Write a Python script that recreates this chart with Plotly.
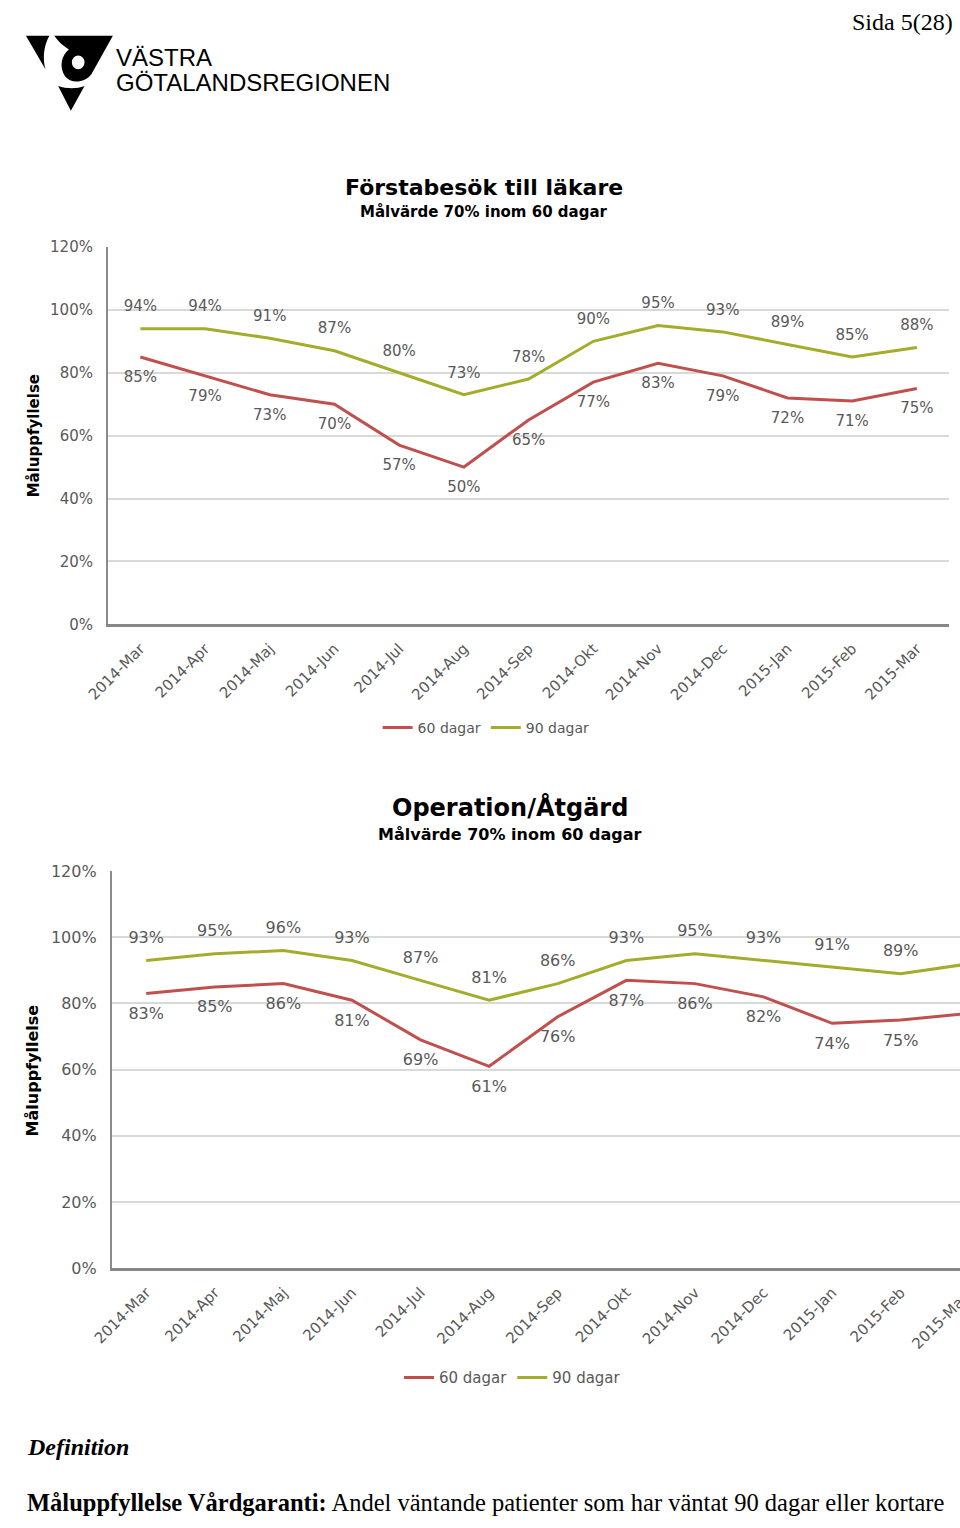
import plotly.graph_objects as go

W, H = 960, 1528

# ---------------- data ----------------
months = ["2014-Mar", "2014-Apr", "2014-Maj", "2014-Jun", "2014-Jul", "2014-Aug",
          "2014-Sep", "2014-Okt", "2014-Nov", "2014-Dec", "2015-Jan", "2015-Feb", "2015-Mar"]
forst_60 = [85, 79, 73, 70, 57, 50, 65, 77, 83, 79, 72, 71, 75]
forst_90 = [94, 94, 91, 87, 80, 73, 78, 90, 95, 93, 89, 85, 88]
oper_60 = [83, 85, 86, 81, 69, 61, 76, 87, 86, 82, 74, 75, 77]
oper_90 = [93, 95, 96, 93, 87, 81, 86, 93, 95, 93, 91, 89, 92]
y_ticks = [0, 20, 40, 60, 80, 100, 120]
y_ticktext = [f"{v}%" for v in y_ticks]
series_names = ["60 dagar", "90 dagar"]

RED = "#C0504D"
GREEN = "#A3AC2B"
GRAY_TXT = "#595959"
F = "DejaVu Sans"


def px_x(p):
    return p / W


def px_y(p):
    return 1 - p / H


fig = go.Figure()


def add_pair(v60, v90, xa, ya, lg, fsize):
    for vals, name, col, pos in [(v60, series_names[0], RED, "bottom center"),
                                 (v90, series_names[1], GREEN, "top center")]:
        fig.add_trace(go.Scatter(
            x=months, y=vals, name=name, xaxis=xa, yaxis=ya, legend=lg,
            mode="lines+markers+text",
            text=[f"{v}%" for v in vals], textposition=pos,
            textfont=dict(family=F, size=fsize, color=GRAY_TXT),
            line=dict(color=col, width=3),
            marker=dict(size=20, color="rgba(0,0,0,0)"),
            cliponaxis=False, hoverinfo="skip"))


add_pair(forst_60, forst_90, "x", "y", "legend", 15)
add_pair(oper_60, oper_90, "x2", "y2", "legend2", 16)

yaxis_common = dict(showline=True, linecolor="#8C8C8C", linewidth=2, ticks="",
                    zeroline=False, range=[0, 120], tickvals=y_ticks,
                    ticktext=y_ticktext, showgrid=True, gridcolor="#D9D9D9",
                    gridwidth=1.5, ticklabelstandoff=10)
xaxis_common = dict(showline=True, linecolor="#878787", linewidth=2.5, ticks="",
                    zeroline=False, type="category", showgrid=False, tickangle=-45,
                    ticklabelstandoff=7)

fig.update_layout(
    width=W, height=H, margin=dict(l=0, r=0, t=0, b=0, pad=0),
    paper_bgcolor="white", plot_bgcolor="white", showlegend=True,
    xaxis=dict(domain=[px_x(88), px_x(949)], anchor="y", range=[-0.5, 12.5],
               tickfont=dict(family=F, size=15, color=GRAY_TXT), **xaxis_common),
    yaxis=dict(domain=[px_y(623), px_y(241)], anchor="x",
               tickfont=dict(family=F, size=15, color=GRAY_TXT), **yaxis_common),
    xaxis2=dict(domain=[px_x(92), 1.0], anchor="y2",
                range=[-0.5, -0.5 + 868 / 70.2],
                tickfont=dict(family=F, size=15, color=GRAY_TXT), **xaxis_common),
    yaxis2=dict(domain=[px_y(1275), px_y(873)], anchor="x2",
                tickfont=dict(family=F, size=16, color=GRAY_TXT), **yaxis_common),
    legend=dict(orientation="h", x=px_x(475), y=px_y(728), xanchor="center",
                yanchor="middle", font=dict(family=F, size=14, color=GRAY_TXT),
                bgcolor="rgba(0,0,0,0)"),
    legend2=dict(orientation="h", x=px_x(502), y=px_y(1386), xanchor="center",
                 yanchor="middle", font=dict(family=F, size=15, color=GRAY_TXT),
                 bgcolor="rgba(0,0,0,0)"),
)

ann = []


def text(t, x, y, size, family, color="black", xanchor="center", angle=0):
    ann.append(dict(text=t, x=px_x(x), y=px_y(y), xref="paper", yref="paper",
                    xanchor=xanchor, yanchor="middle", showarrow=False,
                    textangle=angle, font=dict(family=family, size=size, color=color)))


# chart titles
text("<b>Förstabesök till läkare</b>", 473, 181, 22, F)
text("<b>Målvärde 70% inom 60 dagar</b>", 473, 206, 15, F)
text("<b>Operation/Åtgärd</b>", 499, 809, 24, F)
text("<b>Målvärde 70% inom 60 dagar</b>", 499, 836, 16, F)
# y-axis titles
text("<b>Måluppfyllelse</b>", 12, 432, 15, F, angle=-90)
text("<b>Måluppfyllelse</b>", 11, 1075, 16, F, angle=-90)
# cut tick label of the second chart (last category lies beyond the page edge)
ann.append(dict(text=months[-1], x=px_x(92 + 12.5 * 70.2 + 6), y=px_y(1293),
                xref="paper", yref="paper", xanchor="right", yanchor="top",
                showarrow=False, textangle=-45,
                font=dict(family=F, size=15, color=GRAY_TXT)))

# page header / footer
text("Sida 5(28)", 955, 13, 24, "Liberation Serif", xanchor="right")
text("VÄSTRA", 94, 49, 24, "Liberation Sans", xanchor="left")
text("GÖTALANDSREGIONEN", 94, 74, 24, "Liberation Sans", xanchor="left")
text("<b><i>Definition</i></b>", 3, 1456, 24, "Liberation Serif", xanchor="left")
text("<b>Måluppfyllelse Vårdgaranti:</b> Andel väntande patienter som har väntat 90 dagar eller kortare",
     3, 1512, 24.5, "Liberation Serif", xanchor="left")

fig.update_layout(annotations=ann)


# logo shapes (page pixel coordinates converted to paper)
def path(cmds):
    out = []
    for c in cmds:
        if isinstance(c, str):
            out.append(c)
        else:
            out.append(f"{px_x(c[0]):.5f},{px_y(c[1]):.5f}")
    return " ".join(out)


shapes = []
logo_paths = [
    ["M", (4, 27), "L", (28, 27), "C", (22, 38), (21, 50), (24, 61), "Z"],
    ["M", (33, 27), "L", (93, 27), "L", (71, 66), "C", (64, 75), (50, 76), (44, 68),
     "C", (38, 59), (40, 47), (48, 41), "C", (42, 37), (37, 33), (33, 27), "Z"],
    ["M", (37, 78), "C", (46, 81), (56, 81), (64, 78), "L", (50, 103), "Z"],
]
for p in logo_paths:
    shapes.append(dict(type="path", xref="paper", yref="paper", path=path(p),
                       fillcolor="black", line=dict(width=0)))
shapes.append(dict(type="circle", xref="paper", yref="paper",
                   x0=px_x(51), x1=px_x(64), y0=px_y(61), y1=px_y(47),
                   fillcolor="white", line=dict(width=0)))
fig.update_layout(shapes=shapes)

page_css = ("document.documentElement.style.margin='0';"
            "document.body.style.margin='0';"
            "document.body.style.overflow='hidden';"
            "document.documentElement.style.overflow='hidden';")
fig.write_html("out.html", post_script=page_css, config={"displayModeBar": False})
